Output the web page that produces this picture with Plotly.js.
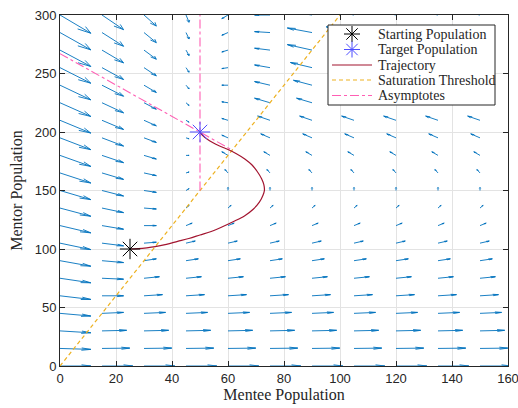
<!DOCTYPE html>
<html>
<head>
<meta charset="utf-8">
<script src="https://cdn.plot.ly/plotly-3.0.1.min.js"></script>
<style>html,body{margin:0;padding:0;background:#fff;}#chart{width:518px;height:408px;}</style>
</head>
<body>
<div id="chart"></div>
<script>
// Quiver grid (mentee on x, mentor on y)
const menteeGrid = [0, 15, 30, 45, 60, 75, 90, 105, 120, 135, 150];
const mentorGrid = [0, 15, 30, 45, 60, 75, 90, 105, 120, 135, 150, 165, 180, 195, 210, 225, 240, 255, 270, 285, 300];

// Arrow components (already scaled, data units), one row per mentor value
const arrowU = [
  [11, 11, 11, 11, 11, 11, 11, 11, 11, 11, 11],
  [11, 9.9, 9.9, 9.9, 9.9, 9.9, 9.9, 9.9, 9.9, 9.9, 9.9],
  [11, 8.8, 8.8, 8.8, 8.8, 8.8, 8.8, 8.8, 8.8, 8.8, 8.8],
  [11, 7.7, 7.7, 7.7, 7.7, 7.7, 7.7, 7.7, 7.7, 7.7, 7.7],
  [11, 7.7, 6.6, 6.6, 6.6, 6.6, 6.6, 6.6, 6.6, 6.6, 6.6],
  [11, 7.7, 5.5, 5.5, 5.5, 5.5, 5.5, 5.5, 5.5, 5.5, 5.5],
  [11, 7.7, 4.4, 4.4, 4.4, 4.4, 4.4, 4.4, 4.4, 4.4, 4.4],
  [11, 7.7, 4.4, 3.3, 3.3, 3.3, 3.3, 3.3, 3.3, 3.3, 3.3],
  [11, 7.7, 4.4, 2.2, 2.2, 2.2, 2.2, 2.2, 2.2, 2.2, 2.2],
  [11, 7.7, 4.4, 1.1, 1.1, 1.1, 1.1, 1.1, 1.1, 1.1, 1.1],
  [11, 7.7, 4.4, 1.1, 0, 0, 0, 0, 0, 0, 0],
  [11, 7.7, 4.4, 1.1, -1.1, -1.1, -1.1, -1.1, -1.1, -1.1, -1.1],
  [11, 7.7, 4.4, 1.1, -2.2, -2.2, -2.2, -2.2, -2.2, -2.2, -2.2],
  [11, 7.7, 4.4, 1.1, -2.2, -3.3, -3.3, -3.3, -3.3, -3.3, -3.3],
  [11, 7.7, 4.4, 1.1, -2.2, -4.4, -4.4, -4.4, -4.4, -4.4, -4.4],
  [11, 7.7, 4.4, 1.1, -2.2, -5.5, -5.5, -5.5, -5.5, -5.5, -5.5],
  [11, 7.7, 4.4, 1.1, -2.2, -5.5, -6.6, -6.6, -6.6, -6.6, -6.6],
  [11, 7.7, 4.4, 1.1, -2.2, -5.5, -7.7, -7.7, -7.7, -7.7, -7.7],
  [11, 7.7, 4.4, 1.1, -2.2, -5.5, -8.8, -8.8, -8.8, -8.8, -8.8],
  [11, 7.7, 4.4, 1.1, -2.2, -5.5, -8.8, -9.9, -9.9, -9.9, -9.9],
  [11, 7.7, 4.4, 1.1, -2.2, -5.5, -8.8, -11, -11, -11, -11]
];
const arrowV = [
  [0, 0, 0, 0, 0, 0, 0, 0, 0, 0, 0],
  [-0.8, 0.3, 0.3, 0.3, 0.3, 0.3, 0.3, 0.3, 0.3, 0.3, 0.3],
  [-1.6, 0.5, 0.5, 0.5, 0.5, 0.5, 0.5, 0.5, 0.5, 0.5, 0.5],
  [-2.3, 0.8, 0.8, 0.8, 0.8, 0.8, 0.8, 0.8, 0.8, 0.8, 0.8],
  [-3.1, 0, 1.0, 1.0, 1.0, 1.0, 1.0, 1.0, 1.0, 1.0, 1.0],
  [-3.9, -0.8, 1.3, 1.3, 1.3, 1.3, 1.3, 1.3, 1.3, 1.3, 1.3],
  [-4.7, -1.6, 1.6, 1.6, 1.6, 1.6, 1.6, 1.6, 1.6, 1.6, 1.6],
  [-5.5, -2.3, 0.8, 1.8, 1.8, 1.8, 1.8, 1.8, 1.8, 1.8, 1.8],
  [-6.2, -3.1, 0, 2.1, 2.1, 2.1, 2.1, 2.1, 2.1, 2.1, 2.1],
  [-7.0, -3.9, -0.8, 2.3, 2.3, 2.3, 2.3, 2.3, 2.3, 2.3, 2.3],
  [-7.8, -4.7, -1.6, 1.6, 2.6, 2.6, 2.6, 2.6, 2.6, 2.6, 2.6],
  [-8.6, -5.5, -2.3, 0.8, 2.9, 2.9, 2.9, 2.9, 2.9, 2.9, 2.9],
  [-9.4, -6.2, -3.1, 0, 3.1, 3.1, 3.1, 3.1, 3.1, 3.1, 3.1],
  [-10.1, -7.0, -3.9, -0.8, 2.3, 3.4, 3.4, 3.4, 3.4, 3.4, 3.4],
  [-10.9, -7.8, -4.7, -1.6, 1.6, 3.6, 3.6, 3.6, 3.6, 3.6, 3.6],
  [-11.7, -8.6, -5.5, -2.3, 0.8, 3.9, 3.9, 3.9, 3.9, 3.9, 3.9],
  [-12.5, -9.4, -6.2, -3.1, 0, 3.1, 4.2, 4.2, 4.2, 4.2, 4.2],
  [-13.3, -10.1, -7.0, -3.9, -0.8, 2.3, 4.4, 4.4, 4.4, 4.4, 4.4],
  [-14.0, -10.9, -7.8, -4.7, -1.6, 1.6, 4.7, 4.7, 4.7, 4.7, 4.7],
  [-14.8, -11.7, -8.6, -5.5, -2.3, 0.8, 3.9, 4.9, 4.9, 4.9, 4.9],
  [-15.6, -12.5, -9.4, -6.2, -3.1, 0, 3.1, 5.2, 5.2, 5.2, 5.2]
];

// Trajectory
const trajX = [25, 28, 31, 34, 38, 42, 46, 50, 54, 58, 62, 66, 69, 71.2, 72.5, 73, 72.8, 72, 70.5, 68.5, 66, 63, 60, 57, 54.5, 52.5, 51, 50.3, 50];
const trajY = [100, 100.3, 101, 102, 104, 106.5, 109, 112, 115, 119, 123.5, 128.5, 134, 140, 146, 150, 155, 160, 166, 172, 177, 181.5, 185, 188, 191, 194, 197, 199, 200];

// Points
const startX = [25], startY = [100];
const targetX = [50], targetY = [200];

// Saturation threshold line (mentor = 3 x mentee)
const saturationX = [0, 100];
const saturationY = [0, 300];

// Asymptotes: vertical at mentee=50 and slanted line through target
const asymptoteX = [50, 50, null, 0, 61.5];
const asymptoteY = [150, 300, null, 267, 184.5];

// Legend labels
const legendLabels = ['Starting Population', 'Target Population', 'Trajectory', 'Saturation Threshold', 'Asymptotes'];

// Styles
const C_QUIVER = '#0072BD', C_TRAJ = '#A2142F', C_SAT = '#EDB120', C_ASYM = '#FF5FB4', C_START = '#000000', C_TARGET = '#4d4dff';
const SAT_DASH = '4px,3px', ASYM_DASH = 'dashdot';

// Build quiver segments (MATLAB-like arrowheads in data space)
const qx = [], qy = [];
const alpha = 0.3, beta = 0.3;
for (let j = 0; j < mentorGrid.length; j++) {
  for (let i = 0; i < menteeGrid.length; i++) {
    const x0 = menteeGrid[i], y0 = mentorGrid[j];
    const u = arrowU[j][i], v = arrowV[j][i];
    if (u === 0 && v === 0) continue;
    const x1 = x0 + u, y1 = y0 + v;
    qx.push(x0, x1, null);
    qy.push(y0, y1, null);
    qx.push(x1 - alpha * (u + beta * v), x1, x1 - alpha * (u - beta * v), null);
    qy.push(y1 - alpha * (v - beta * u), y1, y1 - alpha * (v + beta * u), null);
  }
}

const traces = [
  {x: qx, y: qy, type: 'scatter', mode: 'lines', line: {color: C_QUIVER, width: 0.9}, hoverinfo: 'skip'},
  {x: saturationX, y: saturationY, type: 'scatter', mode: 'lines', line: {color: C_SAT, width: 1.2, dash: SAT_DASH}, name: legendLabels[3]},
  {x: asymptoteX, y: asymptoteY, type: 'scatter', mode: 'lines', line: {color: C_ASYM, width: 1.1, dash: ASYM_DASH}, name: legendLabels[4]},
  {x: trajX, y: trajY, type: 'scatter', mode: 'lines', line: {color: C_TRAJ, width: 1.2, shape: 'spline'}, name: legendLabels[2]},
  {x: startX, y: startY, type: 'scatter', mode: 'markers', marker: {symbol: 'asterisk-open', size: 17, color: C_START, line: {color: C_START, width: 1}}, name: legendLabels[0]},
  {x: targetX, y: targetY, type: 'scatter', mode: 'markers', marker: {symbol: 'asterisk-open', size: 17, color: C_TARGET, line: {color: C_TARGET, width: 1}}, name: legendLabels[1]}
];

// Legend drawn as a box in paper coordinates (MATLAB-style compact rows)
const plotL = 60, plotT = 15, plotW = 448, plotH = 351;
const px2x = p => (p - plotL) / plotW;
const py2y = p => (plotT + plotH - p) / plotH;
const boxL = 328, boxR = 495, boxT = 25, boxB = 105;
const rowY = [34, 49.5, 65, 80, 95.5];
const symL = 332, symR = 372, symC = 352, textL = 376;

const shapes = [
  {type: 'rect', xref: 'paper', yref: 'paper', x0: px2x(boxL), x1: px2x(boxR), y0: py2y(boxB), y1: py2y(boxT),
   fillcolor: '#ffffff', line: {color: '#262626', width: 1}, layer: 'above'}
];
const lineStyles = [null, null, {color: C_TRAJ, width: 1.2}, {color: C_SAT, width: 1.2, dash: SAT_DASH}, {color: C_ASYM, width: 1.1, dash: ASYM_DASH}];
lineStyles.forEach((ls, k) => {
  if (!ls) return;
  shapes.push({type: 'line', xref: 'paper', yref: 'paper', x0: px2x(symL), x1: px2x(symR), y0: py2y(rowY[k]), y1: py2y(rowY[k]), line: ls, layer: 'above'});
});
const starPath = 'M-8,0L8,0M0,-8L0,8M-5.7,-5.7L5.7,5.7M-5.7,5.7L5.7,-5.7';
[[0, C_START], [1, C_TARGET]].forEach(([k, col]) => {
  shapes.push({type: 'path', xref: 'paper', yref: 'paper', xsizemode: 'pixel', ysizemode: 'pixel',
    xanchor: px2x(symC), yanchor: py2y(rowY[k]), path: starPath, line: {color: col, width: 1}, layer: 'above'});
});
const annotations = legendLabels.map((t, k) => ({
  text: t, xref: 'paper', yref: 'paper', x: px2x(textL), y: py2y(rowY[k]), xanchor: 'left', yanchor: 'middle',
  showarrow: false, font: {family: 'Liberation Serif, serif', size: 14, color: '#262626'}
}));

const axisCommon = {
  showline: true, linecolor: '#262626', linewidth: 1, mirror: 'ticks',
  ticks: 'inside', ticklen: 5, tickcolor: '#262626', tickwidth: 1,
  showgrid: true, gridcolor: '#e3e3e3', gridwidth: 1, zeroline: false,
  tickfont: {family: 'Liberation Sans, Arial, sans-serif', size: 13, color: '#262626'},
  ticklabeloverflow: 'allow'
};

const layout = {
  width: 518, height: 408,
  margin: {l: plotL, r: 518 - plotL - plotW, t: plotT, b: 408 - plotT - plotH},
  paper_bgcolor: '#fff', plot_bgcolor: '#fff',
  showlegend: false,
  xaxis: Object.assign({}, axisCommon, {
    range: [0, 160], tickvals: [0, 20, 40, 60, 80, 100, 120, 140, 160],
    title: {text: 'Mentee Population', font: {family: 'Liberation Serif, serif', size: 16, color: '#262626'}, standoff: 3}
  }),
  yaxis: Object.assign({}, axisCommon, {
    range: [0, 300], tickvals: [0, 50, 100, 150, 200, 250, 300],
    title: {text: 'Mentor Population', font: {family: 'Liberation Serif, serif', size: 16, color: '#262626'}, standoff: 8}
  }),
  shapes: shapes,
  annotations: annotations
};

Plotly.newPlot('chart', traces, layout, {staticPlot: true, displayModeBar: false});
</script>
</body>
</html>
